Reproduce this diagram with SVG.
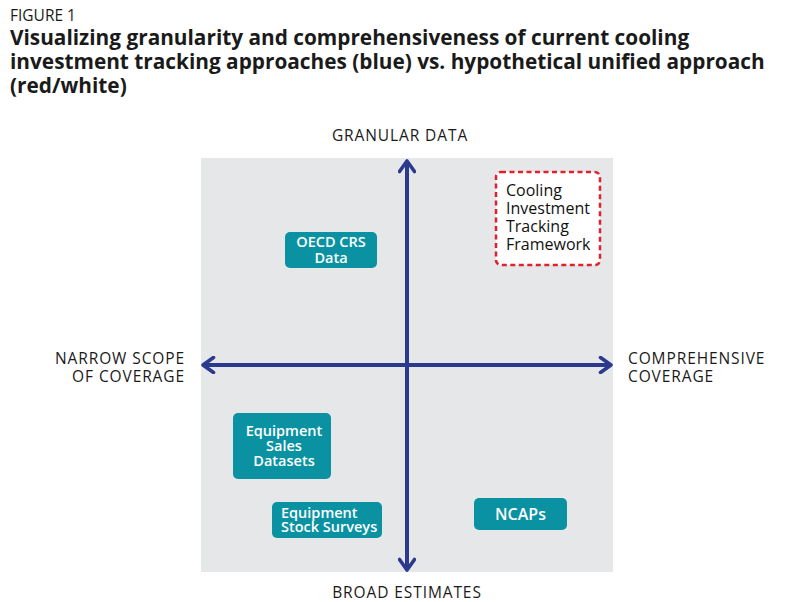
<svg xmlns="http://www.w3.org/2000/svg" width="806" height="602" viewBox="0 0 806 602">
<style>
.t{font-family:"Open Sans","Liberation Sans",sans-serif;fill:#1a1a1a}
.fig{font-size:15.5px}
.ttl{font-size:20.8px;font-weight:700}
.ax{font-size:15.5px;letter-spacing:0.9px}
.box{fill:#0a92a3}
.bt{font-family:"Open Sans","Liberation Sans",sans-serif;font-size:14.5px;font-weight:600;fill:#fff}
.mid{text-anchor:middle}
.rt{font-family:"Open Sans","Liberation Sans",sans-serif;font-size:16px;fill:#111}
.axis{stroke:#2b3a8c;stroke-width:4;fill:none}
</style>
<defs>
<marker id="ah" viewBox="0 0 12 12" refX="9" refY="6" markerWidth="4.5" markerHeight="4.5" orient="auto-start-reverse" markerUnits="strokeWidth">
<polyline points="2,1 9,6 2,11" fill="none" stroke="#2b3a8c" stroke-width="2.4" stroke-linecap="round" stroke-linejoin="round"/>
</marker>
</defs>
<rect width="806" height="602" fill="#fff"/>
<text class="t fig" x="10" y="21">FIGURE 1</text>
<text class="t ttl" x="10" y="45">Visualizing granularity and comprehensiveness of current cooling</text>
<text class="t ttl" x="10" y="69">investment tracking approaches (blue) vs. hypothetical unified approach</text>
<text class="t ttl" x="10" y="93">(red/white)</text>
<rect x="201" y="158" width="412" height="414" fill="#e6e7e8"/>
<g id="connectors">
<line class="axis" x1="407" y1="570" x2="407" y2="161" marker-start="url(#ah)" marker-end="url(#ah)"/>
<line class="axis" x1="203" y1="365" x2="611" y2="365" marker-start="url(#ah)" marker-end="url(#ah)"/>
</g>
<g id="axis-labels">
<text class="t ax" x="400" y="141" text-anchor="middle">GRANULAR DATA</text>
<text class="t ax" x="407" y="598" text-anchor="middle">BROAD ESTIMATES</text>
<text class="t ax" x="185" y="364" text-anchor="end">NARROW SCOPE</text>
<text class="t ax" x="185" y="382" text-anchor="end">OF COVERAGE</text>
<text class="t ax" x="628" y="364">COMPREHENSIVE</text>
<text class="t ax" x="628" y="382">COVERAGE</text>
</g>
<g id="oecd">
<rect class="box" x="285" y="232" width="92" height="36" rx="5"/>
<text class="bt mid" x="331" y="247">OECD CRS</text>
<text class="bt mid" x="331" y="263">Data</text>
</g>
<g id="framework">
<rect x="496" y="172" width="104" height="93" rx="5" fill="#fff" stroke="#e0202c" stroke-width="2.5" stroke-dasharray="5,3.5"/>
<text class="rt" x="506" y="196">Cooling</text>
<text class="rt" x="506" y="214">Investment</text>
<text class="rt" x="506" y="232">Tracking</text>
<text class="rt" x="506" y="250">Framework</text>
</g>
<g id="sales">
<rect class="box" x="233" y="413" width="98" height="66" rx="5"/>
<text class="bt mid" x="284" y="436">Equipment</text>
<text class="bt mid" x="284" y="451">Sales</text>
<text class="bt mid" x="284" y="466">Datasets</text>
</g>
<g id="stock">
<rect class="box" x="272" y="502" width="110" height="36" rx="5"/>
<text class="bt" x="281" y="518">Equipment</text>
<text class="bt" x="281" y="532">Stock Surveys</text>
</g>
<g id="ncaps">
<rect class="box" x="474" y="498" width="93" height="32" rx="5"/>
<text class="bt mid" x="520.5" y="520" style="font-size:16px">NCAPs</text>
</g>
</svg>
